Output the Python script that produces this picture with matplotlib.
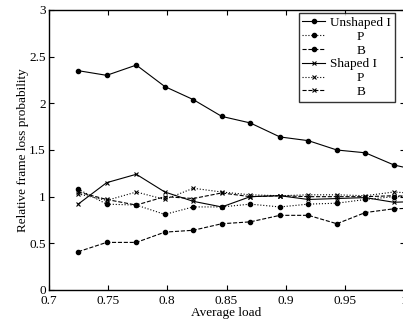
import matplotlib
matplotlib.use("Agg")
import matplotlib.pyplot as plt

# ── data ─────────────────────────────────────────────────────────────────────
load = [0.725, 0.749, 0.774, 0.798, 0.822, 0.846, 0.870, 0.895, 0.919, 0.943, 0.967, 0.991, 1.015]

unshaped_i = [2.35, 2.30, 2.41, 2.18, 2.04, 1.86, 1.79, 1.64, 1.60, 1.50, 1.47, 1.34, 1.27]
unshaped_p = [1.08, 0.92, 0.91, 0.81, 0.89, 0.89, 0.92, 0.89, 0.92, 0.93, 0.97, 1.00, 1.00]
unshaped_b = [0.41, 0.51, 0.51, 0.62, 0.64, 0.71, 0.73, 0.80, 0.80, 0.71, 0.83, 0.87, 0.88]
shaped_i   = [0.92, 1.15, 1.24, 1.05, 0.95, 0.89, 1.00, 1.01, 0.97, 0.98, 0.99, 0.94, 0.95]
shaped_p   = [1.03, 0.96, 1.05, 0.97, 1.09, 1.05, 1.02, 1.01, 1.02, 1.02, 1.01, 1.05, 1.03]
shaped_b   = [1.05, 0.97, 0.91, 1.00, 0.98, 1.04, 1.00, 1.01, 1.00, 1.00, 1.00, 1.01, 1.00]

xticks = [0.7, 0.75, 0.8, 0.85, 0.9, 0.95, 1.0]
xtick_labels = ["0.7", "0.75", "0.8", "0.85", "0.9", "0.95", "1"]
yticks = [0, 0.5, 1, 1.5, 2, 2.5, 3]
ytick_labels = ["0", "0.5", "1", "1.5", "2", "2.5", "3"]

plt.rcParams["font.family"] = ["Liberation Serif", "DejaVu Serif"]
plt.rcParams["font.size"] = 9.5

fig = plt.figure(figsize=(4.03, 3.22), dpi=100)
ax = fig.add_axes([48.5 / 403, 1 - 290 / 322, (404.5 - 48.5) / 403, 280 / 322])

lw = 0.8
ax.plot(load, unshaped_i, "-",  color="black", lw=lw, marker="o", ms=3, label="Unshaped I")
ax.plot(load, unshaped_p, ":",  color="black", lw=lw, marker="o", ms=3, label="        P")
ax.plot(load, unshaped_b, "--", color="black", lw=lw, marker="o", ms=3, label="        B")
ax.plot(load, shaped_i,   "-",  color="black", lw=lw, marker="x", ms=3.5, mew=0.8, label="Shaped I")
ax.plot(load, shaped_p,   ":",  color="black", lw=lw, marker="x", ms=3.5, mew=0.8, label="        P")
ax.plot(load, shaped_b,   "--", color="black", lw=lw, marker="x", ms=3.5, mew=0.8, label="        B")

ax.set_xlim(0.7, 1.0)
ax.set_ylim(0, 3)
ax.set_xticks(xticks)
ax.set_xticklabels(xtick_labels)
ax.set_yticks(yticks)
ax.set_yticklabels(ytick_labels)
ax.tick_params(direction="in", top=True, right=True, length=3.5, width=0.8)
ax.tick_params(axis="x", pad=3.5)
ax.tick_params(axis="y", pad=2)
for s in ax.spines.values():
    s.set_linewidth(1.0)

ax.set_xlabel("Average load", labelpad=0)
ax.set_ylabel("Relative frame loss probability", labelpad=0)

leg = ax.legend(loc="upper right", bbox_to_anchor=(395 / 403, 1 - 12.7 / 322),
                bbox_transform=fig.transFigure, borderaxespad=0,
                frameon=True, fancybox=False, edgecolor="black",
                handlelength=1.7, handletextpad=0.4, labelspacing=0.12,
                borderpad=0.3, fontsize=9.5)
leg.get_frame().set_linewidth(1.0)

plt.savefig("out.png", dpi=100)
